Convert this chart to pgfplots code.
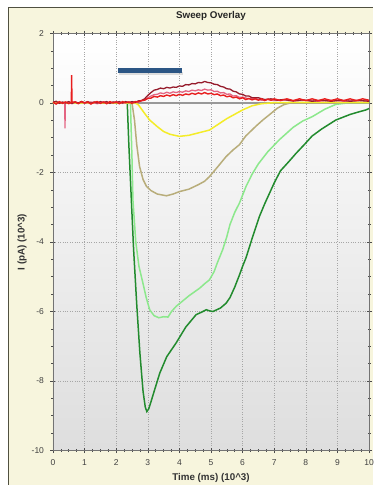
\documentclass[border=0pt]{standalone}
\usepackage{pgfplots}
\pgfplotsset{compat=1.18}
\usepackage{fontspec}
\setmainfont{Liberation Sans}
\definecolor{beige}{RGB}{247,245,221}
\definecolor{frame}{RGB}{80,80,64}
\definecolor{dgreen}{RGB}{34,139,46}
\definecolor{lgreen}{RGB}{140,232,140}
\definecolor{khaki}{RGB}{184,173,122}
\definecolor{yel}{RGB}{244,236,40}
\definecolor{dred}{RGB}{150,28,44}
\definecolor{pinkr}{RGB}{228,100,130}
\definecolor{bred}{RGB}{232,30,30}
\definecolor{barblue}{RGB}{44,86,133}
\begin{document}
\begin{tikzpicture}[x=1pt,y=1pt]
\useasboundingbox (0,0) rectangle (373,485);
\fill[beige] (8,0) rectangle (373,477);
\draw[frame, line width=1pt] (8,0) -- (8,477) -- (373,477);
\begin{axis}[
  at={(53pt,34.5pt)}, anchor=south west,
  scale only axis, width=316pt, height=417pt,
  xmin=0, xmax=10, ymin=-10, ymax=2,
  xtick={0,1,...,10}, ytick={-10,-8,...,2},
  minor x tick num=3, minor y tick num=3,
  tick pos=both, tick align=center,
  major tick length=5pt, minor tick length=3pt,
  every tick/.style={black!70, line width=0.6pt},
  grid=major,
  major grid style={black!35, dotted, line width=0.6pt},
  axis line style={black!55, line width=0.8pt},
  axis background/.style={shade, top color=white, bottom color=black!13},
  /pgf/number format/assume math mode=true,
  ticklabel style={font=\fontsize{8.5}{10}\selectfont, text=black!75},
  xticklabel pos=lower, yticklabel pos=left,
  xticklabel style={yshift=-3pt},
  yticklabel style={xshift=-3pt},
  title={Sweep Overlay},
  title style={at={(axis description cs:0.5,1.028)}, anchor=center, font=\bfseries\fontsize{9.8}{11}\selectfont, text=black!85},
  xlabel={Time (ms) (10\^{}3)},
  ylabel={I (pA) (10\^{}3)},
  every axis x label/.style={at={(axis description cs:0.5,-0.066)}, anchor=center, font=\bfseries\fontsize{9.8}{11}\selectfont, text=black!80},
  every axis y label/.style={at={(axis description cs:-0.098,0.5)}, anchor=center, rotate=90, font=\bfseries\fontsize{9.8}{11}\selectfont, text=black!80},
]
% zero baseline
\addplot[black!40, line width=1.8pt] coordinates {(0,0) (10,0)};
% stimulus bar
\addplot[black!25, line width=3pt, opacity=0.5] coordinates {(2.08,0.86) (4.1,0.86)};
\addplot[barblue, line width=4.5pt] coordinates {(2.05,0.93) (4.08,0.93)};
% dark green
\addplot[dgreen, line width=1.5pt] coordinates {
(0,0) (2.35,0) (2.4,-1.2) (2.48,-2.8) (2.55,-4.2) (2.65,-5.8) (2.75,-7.2) (2.85,-8.3) (2.92,-8.75) (2.97,-8.88) (3.03,-8.8) (3.1,-8.6) (3.2,-8.3) (3.38,-7.77) (3.6,-7.3) (3.9,-6.9) (4.2,-6.45) (4.53,-6.09) (4.7,-6.02) (4.85,-5.95) (4.95,-5.98) (5.06,-6.0) (5.3,-5.9) (5.48,-5.76) (5.6,-5.6) (5.75,-5.3) (5.9,-4.95) (6.0,-4.7) (6.11,-4.45) (6.3,-3.9) (6.53,-3.27) (6.7,-2.9) (6.85,-2.6) (7.0,-2.3) (7.2,-1.95) (7.45,-1.7) (7.69,-1.45) (7.95,-1.2) (8.2,-0.95) (8.5,-0.75) (8.95,-0.49) (9.4,-0.33) (9.7,-0.25) (9.9,-0.2) (10,-0.16)};
% light green
\addplot[lgreen, line width=1.5pt] coordinates {
(0,0) (2.45,0) (2.5,-1.6) (2.53,-2.8) (2.62,-4.0) (2.72,-4.7) (2.85,-5.2) (2.95,-5.6) (3.06,-5.95) (3.2,-6.12) (3.35,-6.18) (3.5,-6.15) (3.64,-6.16) (3.75,-6.0) (3.9,-5.85) (4.1,-5.7) (4.3,-5.55) (4.5,-5.42) (4.64,-5.33) (4.8,-5.2) (4.95,-5.09) (5.1,-4.85) (5.2,-4.6) (5.37,-4.22) (5.5,-3.85) (5.6,-3.5) (5.75,-3.15) (5.9,-2.88) (6.11,-2.4) (6.3,-2.05) (6.5,-1.75) (6.8,-1.4) (7.16,-1.06) (7.6,-0.7) (7.9,-0.52) (8.21,-0.39) (8.6,-0.18) (8.95,-0.04) (9.3,0) (10,0)};
% khaki
\addplot[khaki, line width=1.5pt] coordinates {
(0,0) (2.5,0) (2.58,-0.5) (2.65,-1.2) (2.74,-1.83) (2.85,-2.2) (2.96,-2.4) (3.1,-2.52) (3.3,-2.62) (3.59,-2.67) (3.8,-2.62) (4.0,-2.55) (4.3,-2.48) (4.6,-2.35) (4.8,-2.25) (4.95,-2.12) (5.2,-1.85) (5.48,-1.54) (5.7,-1.35) (5.9,-1.2) (6.1,-0.95) (6.43,-0.66) (6.64,-0.49) (6.9,-0.3) (7.1,-0.15) (7.3,-0.05) (7.5,0) (10,0)};
% yellow
\addplot[yel, line width=1.5pt] coordinates {
(0,0) (2.6,0) (2.7,-0.05) (2.9,-0.3) (3.06,-0.49) (3.3,-0.68) (3.5,-0.82) (3.7,-0.9) (4.0,-0.96) (4.3,-0.93) (4.6,-0.86) (4.95,-0.78) (5.2,-0.63) (5.5,-0.45) (5.8,-0.3) (6.0,-0.2) (6.3,-0.08) (6.6,-0.02) (7,0.01) (8,0.02) (10,0.02)};
% pink trace with downward spike
\addplot[pinkr, line width=1.3pt] coordinates {
(0,0.02) (0.1,-0.02) (0.2,0.03) (0.3,-0.01) (0.37,0.02) (0.38,-0.73) (0.39,0.01) (0.5,0.03) (0.6,-0.02) (0.7,0.03) (0.8,0.0) (0.9,0.04) (1.0,-0.01) (1.2,0.03) (1.4,-0.02) (1.6,0.03) (1.8,0.0) (2.0,0.04) (2.2,-0.01) (2.4,0.03) (2.6,0.01) (2.8,0.06) (2.9,0.09) (3.0,0.15) (3.1,0.2) (3.2,0.24) (3.3,0.25) (3.4,0.29) (3.5,0.27) (3.6,0.31) (3.7,0.28) (3.8,0.32) (3.9,0.3) (4.0,0.33) (4.1,0.31) (4.2,0.35) (4.3,0.33) (4.4,0.37) (4.5,0.35) (4.6,0.38) (4.7,0.36) (4.8,0.4) (4.9,0.37) (5.0,0.38) (5.1,0.33) (5.2,0.34) (5.3,0.29) (5.4,0.3) (5.5,0.25) (5.6,0.26) (5.7,0.2) (5.8,0.21) (5.9,0.16) (6.0,0.17) (6.2,0.12) (6.4,0.13) (6.6,0.08) (6.8,0.1) (7.0,0.07) (7.3,0.09) (7.6,0.06) (8.0,0.08) (8.4,0.05) (8.8,0.08) (9.2,0.05) (9.6,0.08) (10,0.06)};
% dark red trace
\addplot[dred, line width=1.3pt] coordinates {
(0,0.02) (0.1,0.05) (0.2,-0.01) (0.3,0.03) (0.4,0.0) (0.5,0.04) (0.6,-0.01) (0.7,0.03) (0.8,0.0) (0.9,0.04) (1.0,0.01) (1.1,0.04) (1.2,-0.01) (1.3,0.03) (1.4,0.0) (1.5,0.04) (1.6,0.01) (1.7,0.04) (1.8,-0.01) (1.9,0.03) (2.0,0.01) (2.1,0.04) (2.2,0.0) (2.3,0.04) (2.4,0.01) (2.5,0.04) (2.6,0.02) (2.7,0.06) (2.8,0.07) (2.9,0.12) (3.0,0.22) (3.1,0.3) (3.2,0.37) (3.3,0.39) (3.4,0.43) (3.5,0.41) (3.6,0.45) (3.7,0.43) (3.8,0.46) (3.9,0.45) (4.0,0.49) (4.1,0.48) (4.2,0.53) (4.3,0.52) (4.4,0.56) (4.5,0.55) (4.6,0.59) (4.7,0.58) (4.8,0.62) (4.9,0.59) (5.0,0.58) (5.1,0.54) (5.2,0.53) (5.3,0.48) (5.4,0.46) (5.5,0.41) (5.6,0.4) (5.7,0.34) (5.8,0.32) (5.9,0.26) (6.0,0.25) (6.1,0.2) (6.2,0.2) (6.3,0.15) (6.5,0.15) (6.7,0.1) (6.9,0.12) (7.1,0.08) (7.3,0.1) (7.6,0.06) (7.9,0.09) (8.2,0.05) (8.5,0.08) (8.8,0.05) (9.1,0.08) (9.4,0.05) (9.7,0.07) (10,0.05)};
% bright red trace with upward spike
\addplot[bred, line width=1.4pt] coordinates {
(0,0.02) (0.1,-0.03) (0.2,0.04) (0.3,-0.01) (0.4,0.03) (0.5,-0.02) (0.58,0.02) (0.59,0.8) (0.6,0.02) (0.7,0.03) (0.8,-0.02) (0.9,0.04) (1.0,0.0) (1.1,0.03) (1.2,-0.03) (1.3,0.02) (1.4,0.04) (1.5,-0.01) (1.6,0.03) (1.7,-0.02) (1.8,0.04) (1.9,0.0) (2.0,0.03) (2.1,-0.02) (2.2,0.04) (2.3,0.01) (2.4,0.03) (2.5,-0.01) (2.6,0.04) (2.7,0.03) (2.8,0.07) (2.9,0.08) (3.0,0.13) (3.1,0.14) (3.2,0.19) (3.3,0.17) (3.4,0.21) (3.5,0.19) (3.6,0.23) (3.7,0.2) (3.8,0.24) (3.9,0.21) (4.0,0.25) (4.1,0.22) (4.2,0.26) (4.3,0.24) (4.4,0.28) (4.5,0.25) (4.6,0.29) (4.7,0.26) (4.8,0.3) (4.9,0.26) (5.0,0.28) (5.1,0.24) (5.2,0.26) (5.3,0.21) (5.4,0.23) (5.5,0.18) (5.6,0.2) (5.7,0.15) (5.8,0.17) (5.9,0.12) (6.0,0.15) (6.1,0.1) (6.2,0.13) (6.3,0.09) (6.4,0.12) (6.5,0.08) (6.6,0.12) (6.7,0.07) (6.8,0.11) (6.9,0.08) (7.0,0.12) (7.2,0.07) (7.4,0.12) (7.6,0.07) (7.8,0.12) (8.0,0.07) (8.2,0.12) (8.4,0.07) (8.6,0.12) (8.8,0.07) (9.0,0.12) (9.2,0.07) (9.4,0.12) (9.6,0.07) (9.8,0.12) (10,0.08)};
\end{axis}
\end{tikzpicture}
\end{document}
